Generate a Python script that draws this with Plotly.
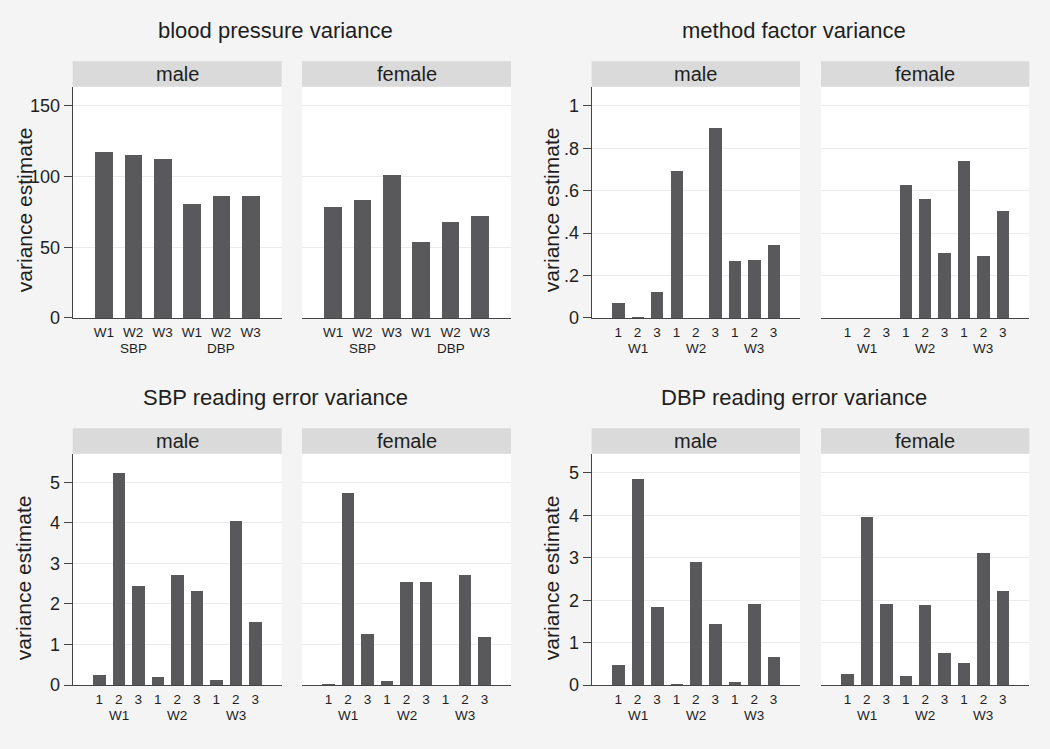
import plotly.graph_objects as go

# ---------------- data ----------------
bp_ticks = ["W1", "W2", "W3", "W1", "W2", "W3"]
bp_groups = ["SBP", "DBP"]
bp_male = [117.5, 115.7, 112.9, 80.5, 86.3, 86.2]
bp_female = [78.8, 83.8, 101.3, 54.0, 68.0, 72.0]

rd_ticks = ["1", "2", "3", "1", "2", "3", "1", "2", "3"]
waves = ["W1", "W2", "W3"]

mf_male = [0.070, 0.005, 0.122, 0.693, 0.0, 0.898, 0.270, 0.274, 0.344]
mf_female = [0.0, 0.0, 0.0, 0.628, 0.560, 0.309, 0.741, 0.291, 0.507]

sbp_male = [0.25, 5.24, 2.45, 0.19, 2.73, 2.32, 0.12, 4.04, 1.55]
sbp_female = [0.02, 4.75, 1.27, 0.10, 2.54, 2.54, 0.0, 2.73, 1.18]

dbp_male = [0.465, 4.86, 1.85, 0.02, 2.91, 1.44, 0.08, 1.91, 0.66]
dbp_female = [0.27, 3.97, 1.91, 0.22, 1.89, 0.77, 0.53, 3.11, 2.22]

sexes = ["male", "female"]
titles = ["blood pressure variance", "method factor variance",
          "SBP reading error variance", "DBP reading error variance"]
ytitle = "variance estimate"

# ---------------- styling / geometry ----------------
W, H = 1050, 749
FONT = "Liberation Sans, Arial, Helvetica, sans-serif"
BAR = "#59595b"
BG = "#f4f4f4"
STRIP = "#dadada"
GRID = "#ebebeb"
AXIS = "#444444"
TXT = "#1e1e1e"
XFONT = 13.5


def px(x):
    return x / W


def py(y):
    return 1 - y / H


panels = [
    dict(title=titles[0], data=[bp_male, bp_female], ticks=bp_ticks, groups=bp_groups,
         group_pos=[2, 5], yr=163.5, tickvals=[0, 50, 100, 150],
         ticktext=["0", "50", "100", "150"], xr=[-0.06, 7.06], bw=0.60,
         cols=[(72.7, 281.7), (302, 511)], top=88, bottom=322.3, strip=62,
         title_xy=(275, 31), ytitle_xy=(24, 213)),
    dict(title=titles[1], data=[mf_male, mf_female], ticks=rd_ticks, groups=waves,
         group_pos=[2, 5, 8], yr=1.09, tickvals=[0, 0.2, 0.4, 0.6, 0.8, 1.0],
         ticktext=["0", ".2", ".4", ".6", ".8", "1"], xr=[-0.36, 10.36], bw=0.63,
         cols=[(591.7, 800), (821, 1029.3)], top=88, bottom=322.3, strip=62,
         title_xy=(794, 31), ytitle_xy=(551, 213)),
    dict(title=titles[2], data=[sbp_male, sbp_female], ticks=rd_ticks, groups=waves,
         group_pos=[2, 5, 8], yr=5.705, tickvals=[0, 1, 2, 3, 4, 5],
         ticktext=["0", "1", "2", "3", "4", "5"], xr=[-0.36, 10.36], bw=0.64,
         cols=[(72.7, 281.7), (302, 511)], top=460, bottom=694.3, strip=434,
         title_xy=(275, 403), ytitle_xy=(23, 586)),
    dict(title=titles[3], data=[dbp_male, dbp_female], ticks=rd_ticks, groups=waves,
         group_pos=[2, 5, 8], yr=5.45, tickvals=[0, 1, 2, 3, 4, 5],
         ticktext=["0", "1", "2", "3", "4", "5"], xr=[-0.36, 10.36], bw=0.64,
         cols=[(591.7, 800), (821, 1029.3)], top=460, bottom=694.3, strip=434,
         title_xy=(794, 403), ytitle_xy=(551, 586)),
]

fig = go.Figure()
layout = dict(
    width=W, height=H, margin=dict(l=0, r=0, t=0, b=0),
    paper_bgcolor=BG, plot_bgcolor="white", showlegend=False,
    font=dict(family=FONT, color=TXT),
    bargap=0,
)
annotations = []
shapes = []

k = 0
for p in panels:
    for j, sex in enumerate(sexes):
        k += 1
        xa = "x" if k == 1 else f"x{k}"
        ya = "y" if k == 1 else f"y{k}"
        xkey = "xaxis" if k == 1 else f"xaxis{k}"
        ykey = "yaxis" if k == 1 else f"yaxis{k}"
        vals = p["data"][j]
        xs = list(range(1, len(vals) + 1))
        fig.add_trace(go.Bar(
            x=xs, y=vals, xaxis=xa, yaxis=ya, width=p["bw"],
            marker=dict(color=BAR, line=dict(width=0)),
            hoverinfo="x+y",
        ))
        x0, x1 = p["cols"][j]
        layout[xkey] = dict(
            domain=[px(x0), px(x1)], anchor=ya, range=p["xr"],
            tickmode="array", tickvals=xs, ticktext=p["ticks"],
            ticks="outside", ticklen=2, tickcolor="rgba(0,0,0,0)",
            tickfont=dict(size=XFONT, color=TXT, family=FONT),
            showline=True, linecolor=AXIS, linewidth=1.3,
            showgrid=False, zeroline=False, fixedrange=True,
        )
        first = j == 0
        layout[ykey] = dict(
            domain=[py(p["bottom"]), py(p["top"])], anchor=xa,
            range=[0, p["yr"]], tickmode="array",
            tickvals=p["tickvals"], ticktext=p["ticktext"],
            showticklabels=first, ticks="outside" if first else "",
            ticklen=8, tickwidth=1.3, tickcolor=AXIS,
            tickfont=dict(size=18, color=TXT, family=FONT),
            showline=first, linecolor=AXIS, linewidth=1.3,
            showgrid=True, gridcolor=GRID, gridwidth=1.2,
            zeroline=False, fixedrange=True,
        )
        # strip header
        shapes.append(dict(
            type="rect", xref=f"{xa} domain", x0=0, x1=1, yref="paper",
            y0=py(p["top"]), y1=py(p["strip"]),
            fillcolor=STRIP, line=dict(width=0), layer="below",
        ))
        annotations.append(dict(
            text=sex, xref=f"{xa} domain", x=0.5, yref="paper",
            y=py((p["top"] + p["strip"]) / 2), xanchor="center", yanchor="middle",
            showarrow=False, font=dict(size=20, color=TXT, family=FONT),
        ))
        # group labels under tick labels
        for g, gp in zip(p["groups"], p["group_pos"]):
            annotations.append(dict(
                text=g, xref=xa, x=gp, yref="paper", y=py(p["bottom"] + 30.5),
                xanchor="center", yanchor="middle", showarrow=False, borderpad=0,
                font=dict(size=XFONT, color=TXT, family=FONT),
            ))
    # panel title
    tx, ty = p["title_xy"]
    annotations.append(dict(
        text=p["title"], xref="paper", x=px(tx), yref="paper", y=py(ty),
        xanchor="center", yanchor="middle", showarrow=False,
        font=dict(size=22, color=TXT, family=FONT),
    ))
    yx, yy = p["ytitle_xy"]
    annotations.append(dict(
        text=ytitle, xref="paper", x=px(yx), yref="paper", y=py(yy),
        xanchor="center", yanchor="middle", textangle=-90, showarrow=False,
        font=dict(size=21, color=TXT, family=FONT),
    ))

layout["annotations"] = annotations
layout["shapes"] = shapes
fig.update_layout(**layout)
fig.write_html(
    "out.html",
    config={"responsive": False, "displayModeBar": False},
    post_script=(
        "var d=document.getElementById('{plot_id}');"
        "document.documentElement.style.margin='0';"
        "document.body.style.margin='0';document.body.style.padding='0';"
        "document.body.style.overflow='hidden';"
        "document.documentElement.style.overflow='hidden';"
        "document.body.style.background='#f4f4f4';"
        "d.style.position='fixed';d.style.left='0px';d.style.top='0px';"
    ),
)
